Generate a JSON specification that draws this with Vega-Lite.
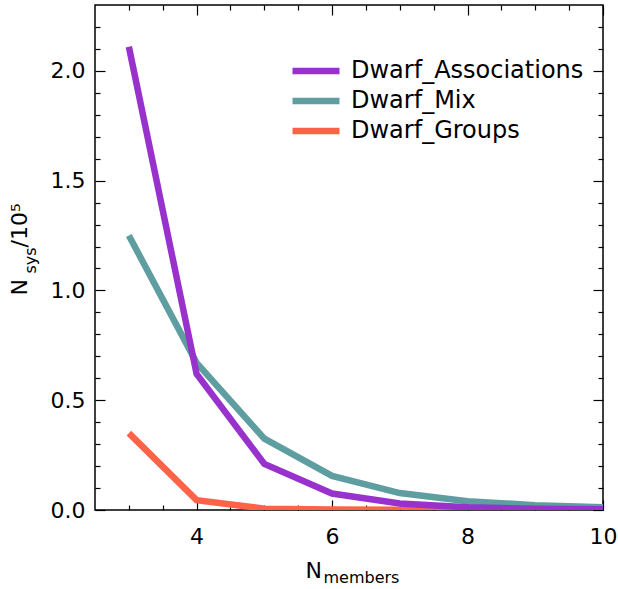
{
  "$schema": "https://vega.github.io/schema/vega-lite/v6.json",
  "width": 508,
  "height": 505,
  "autosize": {"type": "none"},
  "padding": {"left": 95, "top": 5, "right": 15, "bottom": 79},
  "background": "white",
  "config": {
    "font": "DejaVu Sans",
    "view": {"stroke": "black", "strokeWidth": 1.5},
    "axis": {
      "grid": false,
      "domain": false,
      "tickColor": "black",
      "tickWidth": 1.2,
      "labelColor": "black",
      "titleColor": "black",
      "labelFont": "DejaVu Sans",
      "titleFont": "DejaVu Sans",
      "titleFontWeight": "normal",
      "labelFlush": false,
      "labelOverlap": false
    }
  },
  "data": {
    "values": [
      {"n": 3, "series": "Dwarf_Groups", "v": 0.35},
      {"n": 4, "series": "Dwarf_Groups", "v": 0.045},
      {"n": 5, "series": "Dwarf_Groups", "v": 0.006},
      {"n": 6, "series": "Dwarf_Groups", "v": 0.002},
      {"n": 7, "series": "Dwarf_Groups", "v": 0.001},
      {"n": 8, "series": "Dwarf_Groups", "v": 0.0},
      {"n": 9, "series": "Dwarf_Groups", "v": 0.0},
      {"n": 10, "series": "Dwarf_Groups", "v": 0.0},
      {"n": 3, "series": "Dwarf_Mix", "v": 1.25},
      {"n": 4, "series": "Dwarf_Mix", "v": 0.67},
      {"n": 5, "series": "Dwarf_Mix", "v": 0.325},
      {"n": 6, "series": "Dwarf_Mix", "v": 0.155},
      {"n": 7, "series": "Dwarf_Mix", "v": 0.077},
      {"n": 8, "series": "Dwarf_Mix", "v": 0.04},
      {"n": 9, "series": "Dwarf_Mix", "v": 0.022},
      {"n": 10, "series": "Dwarf_Mix", "v": 0.013},
      {"n": 3, "series": "Dwarf_Associations", "v": 2.11},
      {"n": 4, "series": "Dwarf_Associations", "v": 0.62},
      {"n": 5, "series": "Dwarf_Associations", "v": 0.21},
      {"n": 6, "series": "Dwarf_Associations", "v": 0.075},
      {"n": 7, "series": "Dwarf_Associations", "v": 0.03},
      {"n": 8, "series": "Dwarf_Associations", "v": 0.012},
      {"n": 9, "series": "Dwarf_Associations", "v": 0.006},
      {"n": 10, "series": "Dwarf_Associations", "v": 0.003}
    ]
  },
  "layer": [
    {
      "mark": {"type": "line", "strokeWidth": 6.5, "clip": true},
      "encoding": {
        "x": {
          "field": "n", "type": "quantitative",
          "scale": {"domain": [2.5, 10], "nice": false, "zero": false},
          "axis": {
            "orient": "bottom", "values": [4, 6, 8, 10], "format": "d",
            "tickSize": -10, "labelPadding": 26, "labelFontSize": 22,
            "title": "N", "titleFontSize": 22, "titleX": 210, "titleY": 67,
            "titleAlign": "left", "titleBaseline": "alphabetic", "titleAngle": 0
          }
        },
        "y": {
          "field": "v", "type": "quantitative",
          "scale": {"domain": [0, 2.3], "nice": false},
          "axis": {
            "orient": "left", "values": [0, 0.5, 1, 1.5, 2], "format": ".1f",
            "tickSize": -10, "labelPadding": 20, "labelFontSize": 22,
            "title": "N", "titleFontSize": 22, "titleX": -69, "titleY": 290,
            "titleAlign": "left", "titleBaseline": "alphabetic", "titleAngle": -90
          }
        },
        "color": {
          "field": "series", "type": "nominal",
          "scale": {
            "domain": ["Dwarf_Associations", "Dwarf_Mix", "Dwarf_Groups"],
            "range": ["#9932CC", "#5F9EA0", "#FF6347"]
          },
          "legend": {
            "orient": "none", "legendX": 206, "legendY": 51, "title": null,
            "symbolType": "M-2,0H2", "symbolSize": 552, "symbolStrokeWidth": 6.5,
            "labelFontSize": 24, "labelFont": "DejaVu Sans", "labelColor": "black",
            "labelOffset": 20, "rowPadding": 2, "padding": 0, "labelLimit": 0
          }
        }
      }
    },
    {
      "mark": {"type": "point", "opacity": 0},
      "encoding": {
        "x": {
          "field": "n", "type": "quantitative",
          "scale": {"domain": [2.5, 10], "nice": false, "zero": false},
          "axis": {
            "orient": "bottom", "values": [3, 3.5, 4.5, 5, 5.5, 6.5, 7, 7.5, 8.5, 9, 9.5],
            "tickSize": -5, "labels": false,
            "title": "members", "titleFontSize": 16, "titleX": 228, "titleY": 72,
            "titleAlign": "left", "titleBaseline": "alphabetic", "titleAngle": 0
          }
        },
        "y": {
          "field": "v", "type": "quantitative",
          "scale": {"domain": [0, 2.3], "nice": false},
          "axis": {
            "orient": "left",
            "values": [0.1, 0.2, 0.3, 0.4, 0.6, 0.7, 0.8, 0.9, 1.1, 1.2, 1.3, 1.4, 1.6, 1.7, 1.8, 1.9, 2.1, 2.2],
            "tickSize": -5, "labels": false,
            "title": "sys", "titleFontSize": 16, "titleX": -60, "titleY": 268,
            "titleAlign": "left", "titleBaseline": "alphabetic", "titleAngle": -90
          }
        }
      }
    },
    {
      "mark": {"type": "point", "opacity": 0},
      "encoding": {
        "x": {
          "field": "n", "type": "quantitative",
          "scale": {"domain": [2.5, 10], "nice": false, "zero": false},
          "axis": {"orient": "top", "values": [4, 6, 8, 10], "tickSize": -10, "labels": false, "title": null}
        },
        "y": {
          "field": "v", "type": "quantitative",
          "scale": {"domain": [0, 2.3], "nice": false},
          "axis": {
            "orient": "right", "values": [0, 0.5, 1, 1.5, 2], "tickSize": -10, "labels": false,
            "title": "/10⁵", "titleFontSize": 22, "titleX": -577, "titleY": 242,
            "titleAlign": "left", "titleBaseline": "alphabetic", "titleAngle": -90
          }
        }
      }
    },
    {
      "mark": {"type": "point", "opacity": 0},
      "encoding": {
        "x": {
          "field": "n", "type": "quantitative",
          "scale": {"domain": [2.5, 10], "nice": false, "zero": false},
          "axis": {"orient": "top", "values": [3, 3.5, 4.5, 5, 5.5, 6.5, 7, 7.5, 8.5, 9, 9.5], "tickSize": -5, "labels": false, "title": null}
        },
        "y": {
          "field": "v", "type": "quantitative",
          "scale": {"domain": [0, 2.3], "nice": false},
          "axis": {
            "orient": "right",
            "values": [0.1, 0.2, 0.3, 0.4, 0.6, 0.7, 0.8, 0.9, 1.1, 1.2, 1.3, 1.4, 1.6, 1.7, 1.8, 1.9, 2.1, 2.2],
            "tickSize": -5, "labels": false, "title": null
          }
        }
      }
    }
  ],
  "resolve": {"axis": {"x": "independent", "y": "independent"}}
}
